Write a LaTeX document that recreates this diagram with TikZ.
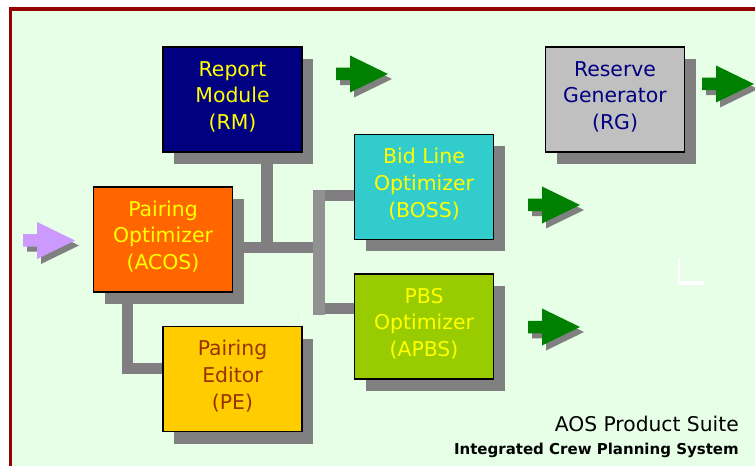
\documentclass[tikz,border=0pt]{standalone}
\usepackage{fontspec}
\setmainfont{DejaVu Sans}
\usetikzlibrary{shadows,backgrounds}
\definecolor{bggreen}{RGB}{230,255,230}
\definecolor{framered}{RGB}{150,0,0}
\definecolor{shadowgray}{RGB}{128,128,128}
\definecolor{conngray}{RGB}{128,126,128}
\definecolor{connlight}{RGB}{144,145,144}
\definecolor{rmblue}{RGB}{0,0,128}
\definecolor{acosorange}{RGB}{255,102,0}
\definecolor{pegold}{RGB}{255,204,0}
\definecolor{bosscyan}{RGB}{51,204,204}
\definecolor{apbsgreen}{RGB}{153,204,0}
\definecolor{rggray}{RGB}{192,192,192}
\definecolor{txtyellow}{RGB}{255,255,0}
\definecolor{txtbrown}{RGB}{153,51,0}
\definecolor{arrowgreen}{RGB}{0,128,0}
\definecolor{arrowpurple}{RGB}{204,153,255}
\tikzset{
  box/.style={draw=black, line width=1.1pt, minimum width=104.25pt,
    minimum height=78.75pt, align=center, inner sep=0pt, text depth=6.5pt,
    font=\fontsize{15.3}{20}\selectfont,
    drop shadow={shadow xshift=8.6pt, shadow yshift=-9pt, fill=shadowgray, opacity=1}},
  conn/.style={draw=conngray, line width=8.4pt, line join=miter},
  connv/.style={draw=connlight, line width=8.8pt, line cap=rect},
  pics/bigarrow/.style={code={
    \fill[shadowgray] (4,-1.25) -- (18,-1.25) -- (18,-13.5) -- (56,5) -- (18,23.5) -- (18,11.25) -- (4,11.25) -- cycle;
    \fill[#1] (0,-6.25) -- (14,-6.25) -- (14,-18.5) -- (52,0) -- (14,18.5) -- (14,6.25) -- (0,6.25) -- cycle;
  }}
}
\begin{document}
\begin{tikzpicture}[x=0.75pt,y=-0.75pt]
\useasboundingbox (0,0) rectangle (755,466);

% boxes
\node[box, fill=rmblue, text=txtyellow] (rm) at (232.5,99.7) {Report\\Module\\(RM)};
\node[box, fill=acosorange, text=txtyellow] (acos) at (163,239.5) {Pairing\\Optimizer\\(ACOS)};
\node[box, fill=pegold, text=txtbrown] (pe) at (232.5,379) {Pairing\\Editor\\(PE)};
\node[box, fill=bosscyan, text=txtyellow] (boss) at (424,187) {Bid Line\\Optimizer\\(BOSS)};
\node[box, fill=apbsgreen, text=txtyellow] (apbs) at (424,326.5) {PBS\\Optimizer\\(APBS)};
\node[box, fill=rggray, text=rmblue] (rg) at (615,99.7) {Reserve\\Generator\\(RG)};

% junction coordinates
\coordinate (j1) at (267,247.5);
\coordinate (jb) at (319,247.5);
\coordinate (bt) at (319,195.4);
\coordinate (bb) at (319,308.7);
\coordinate (c) at (127.5,368.7);

\begin{scope}[on background layer]
\fill[white] (0,0) rectangle (755,466);
\fill[framered] (8.7,6.7) rectangle (755,466);
\fill[bggreen] (12,10.7) rectangle (755,466);
% white marks
\fill[white] (678,258) rectangle (680,285);
\fill[white] (678,281) rectangle (704,285);
\fill[white] (300.5,315) rectangle (301.5,325);
% connectors
\draw[conn] (rm.south -| j1) -- (j1);
\draw[conn] (acos.east |- j1) -- (jb);
\draw[conn] (bt) -- (boss.west |- bt);
\draw[conn] (bb) -- (apbs.west |- bb);
\draw[connv] (bt) -- (bb);
\draw[conn] (acos.south -| c) -- (c) -- (pe.west |- c);
\end{scope}

% arrows
\pic at (23,240.5) {bigarrow=arrowpurple};
\pic at (336,74) {bigarrow=arrowgreen};
\pic at (702,84) {bigarrow=arrowgreen};
\pic at (528,205) {bigarrow=arrowgreen};
\pic at (528,327) {bigarrow=arrowgreen};

% titles
\node[anchor=base east, inner sep=0pt, font=\fontsize{15.2}{18}\selectfont] (title) at (739,431) {AOS Product Suite};
\node[anchor=base east, inner sep=0pt, font=\fontsize{11.25}{14}\selectfont\bfseries] (subtitle) at (739,454.3) {Integrated Crew Planning System};
\end{tikzpicture}
\end{document}
